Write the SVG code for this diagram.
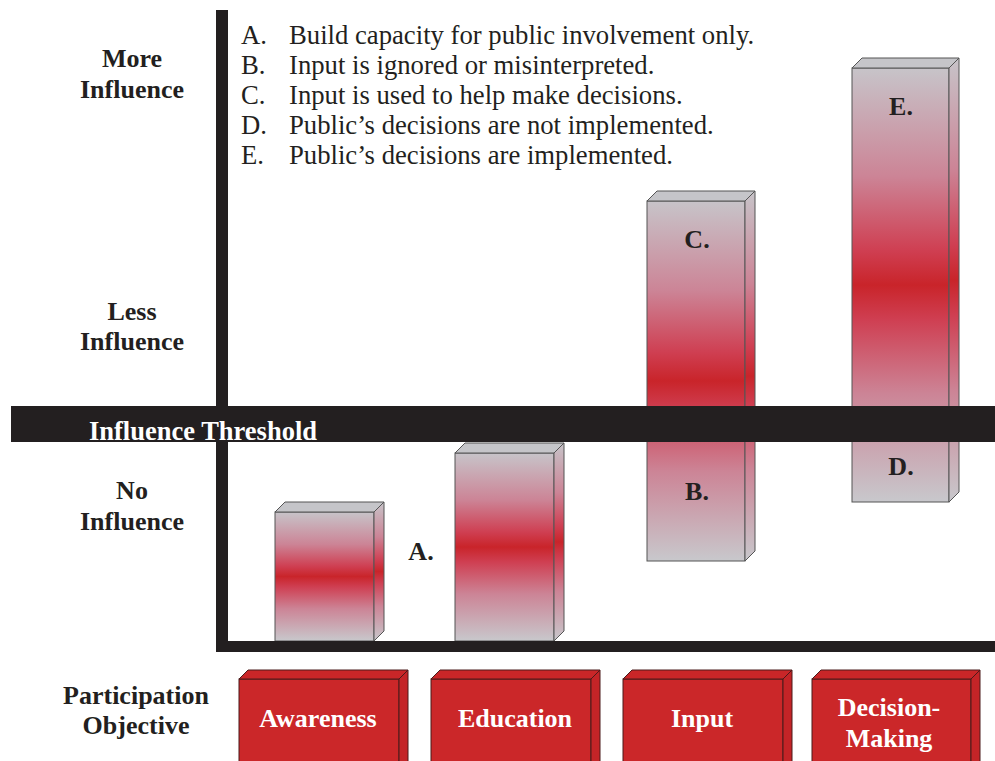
<svg xmlns="http://www.w3.org/2000/svg" width="995" height="761" viewBox="0 0 995 761">
<defs>
<linearGradient id="barGrad" x1="0" y1="0" x2="0" y2="1">
<stop offset="0" stop-color="#c7c4c9"/>
<stop offset="0.25" stop-color="#cc8496"/>
<stop offset="0.42" stop-color="#cf3f52"/>
<stop offset="0.5" stop-color="#c9242a"/>
<stop offset="0.58" stop-color="#cf3f52"/>
<stop offset="0.75" stop-color="#cc8496"/>
<stop offset="1" stop-color="#c8c8cc"/>
</linearGradient>
<style>
.front{fill:url(#barGrad);stroke:#555;stroke-width:1}
.side{fill:url(#barGrad);stroke:#555;stroke-width:1}
.topf{fill:#c5c5c9;stroke:#555;stroke-width:1}
.axis{fill:#231f20}
.lbl{font-family:"Liberation Serif","Times New Roman",serif;font-weight:bold;font-size:26px;fill:#231f20;text-anchor:middle}
.leg{font-family:"Liberation Serif","Times New Roman",serif;font-size:26.7px;fill:#231f20}
.boxf{fill:#cb2729;stroke:#4a1a1a;stroke-width:1}
.boxt{fill:#c92628;stroke:#4a1a1a;stroke-width:1}
.boxs{fill:#c42427;stroke:#4a1a1a;stroke-width:1}
.boxl{font-family:"Liberation Serif","Times New Roman",serif;font-weight:bold;font-size:26px;fill:#ffffff;text-anchor:middle}
.thr{font-family:"Liberation Serif","Times New Roman",serif;font-weight:bold;font-size:26.5px;fill:#ffffff;text-anchor:middle}
</style>
</defs>
<rect width="995" height="761" fill="#ffffff"/>

<g id="legend">
<text class="leg" x="241" y="44">A.</text><text class="leg" x="289" y="44">Build capacity for public involvement only.</text>
<text class="leg" x="241" y="74">B.</text><text class="leg" x="289" y="74">Input is ignored or misinterpreted.</text>
<text class="leg" x="241" y="104">C.</text><text class="leg" x="289" y="104">Input is used to help make decisions.</text>
<text class="leg" x="241" y="134">D.</text><text class="leg" x="289" y="134">Public’s decisions are not implemented.</text>
<text class="leg" x="241" y="164">E.</text><text class="leg" x="289" y="164">Public’s decisions are implemented.</text>
</g>

<g id="axis-labels">
<text class="lbl" x="132" y="67">More</text>
<text class="lbl" x="132" y="98">Influence</text>
<text class="lbl" x="132" y="320">Less</text>
<text class="lbl" x="132" y="350">Influence</text>
<text class="lbl" x="132" y="499">No</text>
<text class="lbl" x="132" y="530">Influence</text>
<text class="lbl" x="136" y="704">Participation</text>
<text class="lbl" x="136" y="734">Objective</text>
</g>

<g id="bar-awareness">
<rect class="front" x="275" y="512" width="99" height="129"/>
<polygon class="topf" points="275,512 285,502 384,502 374,512"/>
<polygon class="side" points="374,512 384,502 384,631 374,641"/>
</g>
<g id="bar-education">
<rect class="front" x="455" y="453" width="99" height="188"/>
<polygon class="topf" points="455,453 465,443 564,443 554,453"/>
<polygon class="side" points="554,453 564,443 564,631 554,641"/>
</g>
<g id="bar-input">
<rect class="front" x="647" y="201" width="98" height="360"/>
<polygon class="topf" points="647,201 657,191 755,191 745,201"/>
<polygon class="side" points="745,201 755,191 755,551 745,561"/>
</g>
<g id="bar-decision">
<rect class="front" x="852" y="68" width="97" height="434"/>
<polygon class="topf" points="852,68 862,58 959,58 949,68"/>
<polygon class="side" points="949,68 959,58 959,492 949,502"/>
</g>

<g id="axes">
<rect class="axis" x="216" y="10" width="12" height="642"/>
<rect class="axis" x="216" y="641" width="779" height="11"/>
</g>

<g id="threshold">
<rect class="axis" x="11" y="406" width="984" height="36"/>
<text class="thr" x="203" y="440">Influence Threshold</text>
</g>

<g id="bar-letters">
<text class="lbl" x="421" y="560">A.</text>
<text class="lbl" x="697" y="500">B.</text>
<text class="lbl" x="697" y="248">C.</text>
<text class="lbl" x="901" y="475">D.</text>
<text class="lbl" x="901" y="115">E.</text>
</g>

<g id="obj-awareness">
<rect class="boxf" x="239" y="679" width="160" height="83"/>
<polygon class="boxt" points="239,679 248,670 408,670 399,679"/>
<polygon class="boxs" points="399,679 408,670 408,762 399,762"/>
<text class="boxl" x="318" y="727">Awareness</text>
</g>
<g id="obj-education">
<rect class="boxf" x="431" y="679" width="160" height="83"/>
<polygon class="boxt" points="431,679 440,670 600,670 591,679"/>
<polygon class="boxs" points="591,679 600,670 600,762 591,762"/>
<text class="boxl" x="515" y="727">Education</text>
</g>
<g id="obj-input">
<rect class="boxf" x="623" y="679" width="160" height="83"/>
<polygon class="boxt" points="623,679 632,670 792,670 783,679"/>
<polygon class="boxs" points="783,679 792,670 792,762 783,762"/>
<text class="boxl" x="702" y="727">Input</text>
</g>
<g id="obj-decision">
<rect class="boxf" x="812" y="679" width="159" height="83"/>
<polygon class="boxt" points="812,679 821,670 980,670 971,679"/>
<polygon class="boxs" points="971,679 980,670 980,762 971,762"/>
<text class="boxl" x="889" y="716">Decision-</text>
<text class="boxl" x="889" y="747">Making</text>
</g>
</svg>
